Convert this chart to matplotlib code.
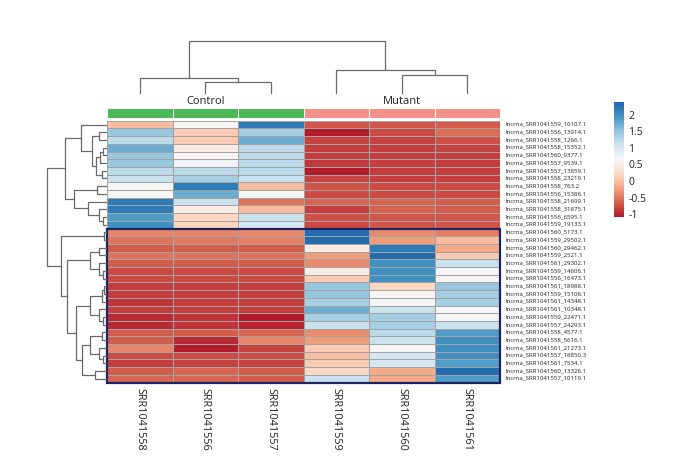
import numpy as np
import matplotlib
matplotlib.use('Agg')
import matplotlib.pyplot as plt
from matplotlib.patches import Rectangle
from matplotlib.colors import ListedColormap, LinearSegmentedColormap

plt.rcParams['font.family'] = ['Open Sans', 'DejaVu Sans']
plt.rcParams['axes.unicode_minus'] = False

# samples (columns) and groups
samples = ['SRR1041558', 'SRR1041556', 'SRR1041557', 'SRR1041559', 'SRR1041560', 'SRR1041561']
groups = ['Control', 'Control', 'Control', 'Mutant', 'Mutant', 'Mutant']
group_colors = {'Control': '#4cb858', 'Mutant': '#f4908a'}

genes = [
    'lncrna_SRR1041559_16107.1', 'lncrna_SRR1041556_13914.1', 'lncrna_SRR1041558_1266.1',
    'lncrna_SRR1041558_15352.1', 'lncrna_SRR1041560_9377.1', 'lncrna_SRR1041557_9539.1',
    'lncrna_SRR1041557_13859.1', 'lncrna_SRR1041558_23219.1', 'lncrna_SRR1041558_763.2',
    'lncrna_SRR1041556_15386.1', 'lncrna_SRR1041558_21699.1', 'lncrna_SRR1041558_31875.1',
    'lncrna_SRR1041556_6595.1', 'lncrna_SRR1041559_19133.1', 'lncrna_SRR1041560_5173.1',
    'lncrna_SRR1041559_29502.1', 'lncrna_SRR1041560_29462.1', 'lncrna_SRR1041559_2521.1',
    'lncrna_SRR1041561_29302.1', 'lncrna_SRR1041559_14606.1', 'lncrna_SRR1041556_16473.1',
    'lncrna_SRR1041561_18988.1', 'lncrna_SRR1041559_15106.1', 'lncrna_SRR1041561_14348.1',
    'lncrna_SRR1041561_10348.1', 'lncrna_SRR1041559_22471.1', 'lncrna_SRR1041557_24293.1',
    'lncrna_SRR1041558_4577.1', 'lncrna_SRR1041558_5616.1', 'lncrna_SRR1041561_21273.1',
    'lncrna_SRR1041557_18850.3', 'lncrna_SRR1041561_7534.1', 'lncrna_SRR1041560_13326.1',
    'lncrna_SRR1041557_10119.1',
]

# scaled expression
values = np.array([
    [-0.05, 0.60, 2.15, -0.75, -0.75, -0.70],
    [1.45, 0.05, 1.35, -1.10, -0.82, -0.60],
    [1.20, 0.05, 1.70, -0.85, -0.85, -0.78],
    [1.70, 0.45, 1.20, -0.90, -0.88, -0.85],
    [1.45, 0.60, 1.20, -0.90, -0.90, -0.90],
    [1.45, 0.70, 1.20, -0.92, -0.88, -0.90],
    [1.20, 1.20, 1.20, -1.10, -0.90, -0.88],
    [1.10, 1.35, 1.10, -0.85, -0.88, -0.88],
    [0.60, 2.15, -0.05, -0.75, -0.82, -0.80],
    [0.60, 1.70, 0.60, -0.80, -0.82, -0.82],
    [2.15, 1.10, -0.55, -0.65, -0.65, -0.70],
    [2.15, 0.45, -0.05, -0.88, -0.66, -0.70],
    [1.85, 0.15, 1.10, -0.78, -0.75, -0.75],
    [1.95, 0.15, 1.00, -0.82, -0.75, -0.75],
    [-0.45, -0.45, -0.45, 2.30, -0.40, -0.50],
    [-0.55, -0.52, -0.48, 2.30, -0.30, -0.05],
    [-0.70, -0.70, -0.70, 0.45, 2.15, -0.20],
    [-0.55, -0.55, -0.55, -0.30, 2.30, 0.05],
    [-0.70, -0.70, -0.70, -0.42, 1.95, 1.10],
    [-0.82, -0.82, -0.82, 0.45, 1.95, 0.60],
    [-0.82, -0.82, -0.82, 0.05, 1.95, 0.60],
    [-0.90, -0.90, -0.90, 1.45, 0.15, 1.45],
    [-0.90, -0.90, -0.90, 1.45, 0.60, 1.35],
    [-0.95, -0.90, -0.90, 1.35, 0.60, 1.35],
    [-0.90, -0.90, -0.90, 1.70, 1.10, 0.60],
    [-1.00, -0.95, -1.10, 1.35, 1.35, 0.60],
    [-1.00, -0.95, -1.05, 1.10, 1.35, 1.10],
    [-0.70, -0.70, -0.65, -0.40, 1.20, 1.85],
    [-0.70, -1.00, -0.45, -0.30, 1.10, 1.95],
    [-0.45, -1.10, -0.85, 0.05, 0.60, 1.95],
    [-0.82, -0.82, -0.82, -0.05, 1.00, 1.95],
    [-0.90, -0.85, -0.85, 0.05, 1.00, 1.85],
    [-0.70, -0.65, -0.70, 0.15, -0.20, 2.30],
    [-0.65, -0.65, -0.70, 1.10, -0.20, 1.85],
])

# linkage: (child_a, child_b, height); ids >= n are earlier merges
col_links = [(1, 2, 12.3), (0, 6, 15.7), (4, 5, 19.3), (3, 8, 24.0), (7, 9, 53.0)]
row_links = [
    (1, 2, 8), (3, 4, 4.5), (35, 5, 7), (6, 7, 5), (36, 37, 11), (34, 38, 15),
    (0, 39, 26), (8, 9, 10), (12, 13, 4), (11, 42, 8), (10, 43, 19), (41, 44, 33),
    (40, 45, 42), (14, 15, 3.5), (16, 17, 8.5), (19, 20, 4), (18, 49, 8), (48, 50, 17),
    (21, 22, 3), (52, 23, 5.5), (25, 26, 4), (24, 54, 8), (53, 55, 17), (27, 28, 5),
    (30, 31, 4), (29, 58, 8), (57, 59, 17.5), (32, 33, 12), (60, 61, 25), (56, 62, 31),
    (51, 63, 40), (47, 64, 46), (46, 65, 60),
]
boxed_rows = (14, 34)

vmin, vmax = -1.12, 2.36
palette = ['#b2182b', '#d6604d', '#f4a582', '#fddbc7', '#f7f7f7',
           '#d1e5f0', '#92c5de', '#4393c3', '#2166ac']
cmap = LinearSegmentedColormap.from_list('rdbu9', palette)


def draw_dendro(ax, links, n, side):
    pos = {i: i + 0.5 for i in range(n)}
    hgt = {i: 0.0 for i in range(n)}
    for k, (a, b, h) in enumerate(links):
        pa, pb, ha, hb = pos[a], pos[b], hgt[a], hgt[b]
        if side == 'top':
            ax.plot([pa, pa, pb, pb], [ha, h, h, hb], color='#6a6a6a', lw=0.9)
        else:
            ax.plot([ha, h, h, hb], [pa, pa, pb, pb], color='#6a6a6a', lw=0.9)
        pos[n + k] = (pa + pb) / 2
        hgt[n + k] = h
    ax.axis('off')


W, H = 698, 460
fig = plt.figure(figsize=(W / 100, H / 100), dpi=100)


def px_axes(x0, y0, x1, y1):
    return fig.add_axes([x0 / W, 1 - y1 / H, (x1 - x0) / W, (y1 - y0) / H])


n_rows, n_cols = values.shape
hx0, hx1, hy0, hy1 = 107, 500, 121.7, 383.5

# heatmap
ax = px_axes(hx0, hy0, hx1, hy1)
mesh = ax.pcolormesh(np.arange(n_cols + 1), np.arange(n_rows + 1), values, cmap=cmap,
                     vmin=vmin, vmax=vmax, edgecolors='#a3a3a3', linewidth=0.6)
ax.set_xlim(0, n_cols)
ax.set_ylim(n_rows, 0)
ax.set_xticks([])
ax.set_yticks([])
for s in ax.spines.values():
    s.set_visible(False)
ax.add_patch(Rectangle((0, boxed_rows[0]), n_cols, boxed_rows[1] - boxed_rows[0],
                       fill=False, edgecolor='#1c2462', lw=1.6, clip_on=False, zorder=5))
for i, g in enumerate(genes):
    ax.text(n_cols + 0.08, i + 0.32, g, fontsize=4.4, ha='left', va='center', color='#222222')
for j, s in enumerate(samples):
    ax.text(j + 0.5, n_rows + 0.6, s, rotation=-90, fontsize=7.8, ha='center', va='top',
            color='#222222')

# group annotation bar
axg = px_axes(hx0, 109, hx1, 119)
group_cmap = ListedColormap([group_colors['Control'], group_colors['Mutant']])
codes = np.array([[0 if g == 'Control' else 1 for g in groups]])
axg.pcolormesh(np.arange(n_cols + 1), [0, 1], codes, cmap=group_cmap, vmin=0, vmax=1,
               edgecolors='white', linewidth=0.5)
axg.set_xlim(0, n_cols)
axg.set_ylim(0, 1)
axg.axis('off')
for name in ['Control', 'Mutant']:
    idx = [j for j, g in enumerate(groups) if g == name]
    axg.text(np.mean(idx) + 0.5, 1.75, name, fontsize=8, ha='center', va='center', color='#222222')

# column dendrogram
axc = px_axes(hx0, 38, hx1, 95)
draw_dendro(axc, col_links, n_cols, 'top')
axc.set_xlim(0, n_cols)
axc.set_ylim(0, 57)

# row dendrogram
axr = px_axes(44, hy0, hx0, hy1)
draw_dendro(axr, row_links, n_rows, 'left')
axr.set_xlim(63, 0)
axr.set_ylim(n_rows, 0)

# colorbar
cax = px_axes(614, 103, 624, 218)
cb = fig.colorbar(mesh, cax=cax, ticks=[-1, -0.5, 0, 0.5, 1, 1.5, 2])
cb.outline.set_visible(False)
cb.ax.set_yticklabels(['-1', '-0.5', '0', '0.5', '1', '1.5', '2'])
cb.ax.tick_params(length=0, labelsize=7.5, pad=3, colors='#222222')

fig.savefig('out.png', dpi=100)
